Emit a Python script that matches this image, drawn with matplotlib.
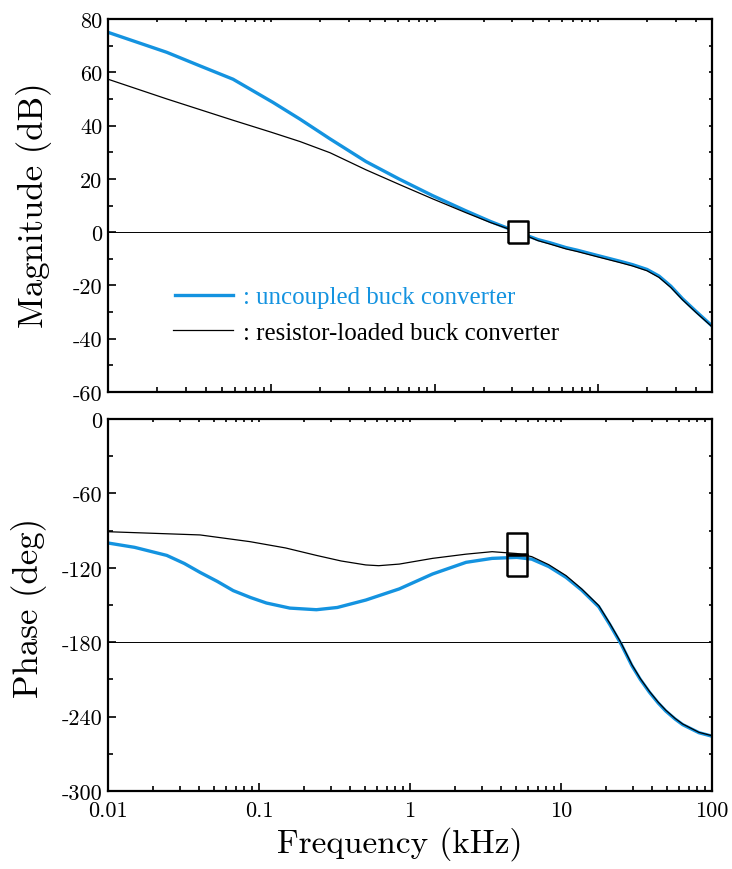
import numpy as np
import matplotlib
matplotlib.use("Agg")
import matplotlib.pyplot as plt
from matplotlib.ticker import FixedLocator, NullFormatter

# ---------------- data ----------------
# Magnitude panel (frequency in kHz, magnitude in dB)
mag_f_unc = [0.01, 0.0229, 0.0366, 0.0583, 0.1024, 0.15, 0.229, 0.38, 0.608,
             0.973, 1.556, 2.2, 3.23, 4.3, 5.1, 6.38, 7.5, 10, 13.6, 16.3,
             20, 23.7, 28, 33, 40, 50]
mag_unc = [75, 67.5, 62.4, 57.4, 48.7, 42.4, 35, 26.5, 19.9,
           13.7, 8.0, 4.0, 0.0, -2.8, -4.0, -5.8, -6.8, -8.8, -10.9, -12.2,
           -14.0, -16.5, -20.3, -25, -29.8, -35.2]

mag_f_res = [0.01, 0.0229, 0.0583, 0.1, 0.15, 0.229, 0.38, 0.608, 0.973,
             1.556, 2.2, 3.23, 4.3, 5.1, 6.38, 7.5, 10, 13.6, 16.3, 20, 23.7,
             28, 33, 40, 50]
mag_res = [57.4, 50, 42, 37.5, 34, 29.8, 23.4, 17.9, 12.5,
           7.3, 3.6, 0.0, -3.2, -4.5, -6.3, -7.3, -9.3, -11.4, -12.7, -14.5,
           -17.0, -20.8, -25.4, -30.2, -35.5]

# Phase panel (frequency in kHz, phase in deg)
ph_f_unc = [0.01, 0.015, 0.0245, 0.032, 0.0407, 0.053, 0.0675, 0.088, 0.112,
            0.16, 0.24, 0.33, 0.51, 0.85, 1.41, 2.35, 3.5, 5.1, 6.4, 8.3,
            10.8, 13.7, 17.8, 21.1, 25.0, 29.5, 33.5, 38.6, 44.0, 49.4, 57.0,
            64.0, 82.0, 100.0]
ph_unc = [-100, -103.5, -110, -116.5, -123.7, -131, -138.4, -144, -148.4,
          -152.5, -153.8, -152, -146, -137, -125, -115.6, -112.4, -111.6,
          -113, -119, -127.7, -138, -151.5, -166, -181.5, -199, -210,
          -220.5, -229, -235.5, -242, -246.5, -253, -255.8]

ph_f_res = [0.01, 0.0407, 0.087, 0.15, 0.24, 0.35, 0.51, 0.62, 0.85, 1.41,
            2.35, 3.5, 5.1, 6.4, 8.3, 10.8, 13.7, 17.8, 21.1, 25.0, 29.5,
            33.5, 38.6, 44.0, 49.4, 57.0, 64.0, 82.0, 100.0]
ph_res = [-90.9, -93.5, -98.9, -104, -110, -114.5, -117.7, -118.3, -117,
          -112.4, -109, -107, -108.5, -111, -117.5, -126.3, -137, -150.5,
          -165, -180.6, -198.2, -209.3, -219.8, -228.3, -234.8, -241.5,
          -246, -252.7, -255.4]

mag_marker_f = [3.23]
mag_marker_v = [0.0]
ph_marker_f = [5.1, 5.1]
ph_marker_v = [-101, -118]

mag_ticks = [80, 60, 40, 20, 0, -20, -40, -60]
ph_ticks = [0, -60, -120, -180, -240, -300]
x_ticks = [0.01, 0.1, 1, 10, 100]
x_ticklabels = ["0.01", "0.1", "1", "10", "100"]

legend_labels = [": uncoupled buck converter", ": resistor-loaded buck converter"]

BLUE = "#1493e0"
CM = "cmr10"
TIMES = "Liberation Serif"

# ---------------- figure ----------------
W, H = 732, 870
fig = plt.figure(figsize=(W / 100, H / 100), dpi=100)
ax1 = fig.add_axes([108 / W, (H - 393) / H, 604 / W, 373 / H])
ax2 = fig.add_axes([108 / W, (H - 792) / H, 604 / W, 372 / H])

rect = [(-0.43, -0.5), (0.43, -0.5), (0.43, 0.5), (-0.43, 0.5), (-0.43, -0.5)]

# magnitude
ax1.axhline(0, color="black", lw=0.7, zorder=1)
ax1.plot(mag_f_unc, mag_unc, color=BLUE, lw=2.4, zorder=2)
ax1.plot(mag_f_res, mag_res, color="black", lw=0.9, zorder=3)
ax1.plot(mag_marker_f, mag_marker_v, linestyle="none", marker=rect,
         markersize=16, mfc="white", mec="black", mew=1.8, zorder=5)
ax1.set_xscale("log")
ax1.set_xlim(0.01, 50)
ax1.set_ylim(-60, 80)

# phase
ax2.axhline(-180, color="black", lw=0.7, zorder=1)
ax2.plot(ph_f_unc, ph_unc, color=BLUE, lw=2.4, zorder=2)
ax2.plot(ph_f_res, ph_res, color="black", lw=0.9, zorder=3)
ax2.plot(ph_marker_f, ph_marker_v, linestyle="none", marker=rect,
         markersize=16, mfc="none", mec="black", mew=1.8, zorder=5)
ax2.set_xscale("log")
ax2.set_xlim(0.01, 100)
ax2.set_ylim(-300, 0)

for ax in (ax1, ax2):
    for s in ax.spines.values():
        s.set_linewidth(1.6)
    ax.tick_params(which="both", direction="in", top=True, right=True,
                   width=1.2, labelsize=16, pad=4)
    ax.tick_params(which="major", length=6)
    ax.tick_params(which="minor", length=3.5)

ax1.yaxis.set_major_locator(FixedLocator(mag_ticks))
ax1.yaxis.set_minor_locator(FixedLocator(np.arange(-50, 80, 20)))
ax1.set_yticklabels([str(t) for t in mag_ticks], fontfamily=CM, fontsize=16)
ax1.set_xticks(x_ticks[:4])
ax1.xaxis.set_major_formatter(NullFormatter())
ax1.xaxis.set_minor_formatter(NullFormatter())

ax2.yaxis.set_major_locator(FixedLocator(ph_ticks))
ax2.yaxis.set_minor_locator(FixedLocator(np.arange(-270, 0, 60)))
ax2.set_yticklabels([str(t) for t in ph_ticks], fontfamily=CM, fontsize=16)
ax2.set_xticks(x_ticks)
ax2.set_xticklabels(x_ticklabels, fontfamily=CM, fontsize=16)
ax2.xaxis.set_minor_formatter(NullFormatter())
ax2.tick_params(axis="x", which="major", pad=7)

# tiny ticks on top / right
for ax in (ax1, ax2):
    for axis in (ax.xaxis, ax.yaxis):
        for t in axis.get_major_ticks() + axis.get_minor_ticks():
            t.tick2line.set_markersize(2)

ax1.set_ylabel("Magnitude (dB)", fontfamily=CM, fontsize=25)
ax1.yaxis.set_label_coords(-0.092, 0.504)
ax2.set_ylabel("Phase (deg)", fontfamily=CM, fontsize=25)
ax2.yaxis.set_label_coords(-0.101, 0.495)
ax2.set_xlabel("Frequency (kHz)", fontfamily=CM, fontsize=24)
ax2.xaxis.set_label_coords(0.483, -0.094)

# legend (manual, in figure pixel coordinates)
def fx(px):
    return px / W

def fy(py):
    return 1 - py / H

fig.add_artist(plt.Line2D([fx(175), fx(233)], [fy(296), fy(296)], color=BLUE, lw=2.4))
fig.add_artist(plt.Line2D([fx(173), fx(233)], [fy(331), fy(331)], color="black", lw=0.9))
fig.text(fx(243), fy(296), legend_labels[0], color=BLUE, fontfamily=TIMES,
         fontsize=17.9, va="center_baseline", ha="left")
fig.text(fx(243), fy(331), legend_labels[1], color="black", fontfamily=TIMES,
         fontsize=17.9, va="center_baseline", ha="left")

fig.savefig("out.png", dpi=100)
